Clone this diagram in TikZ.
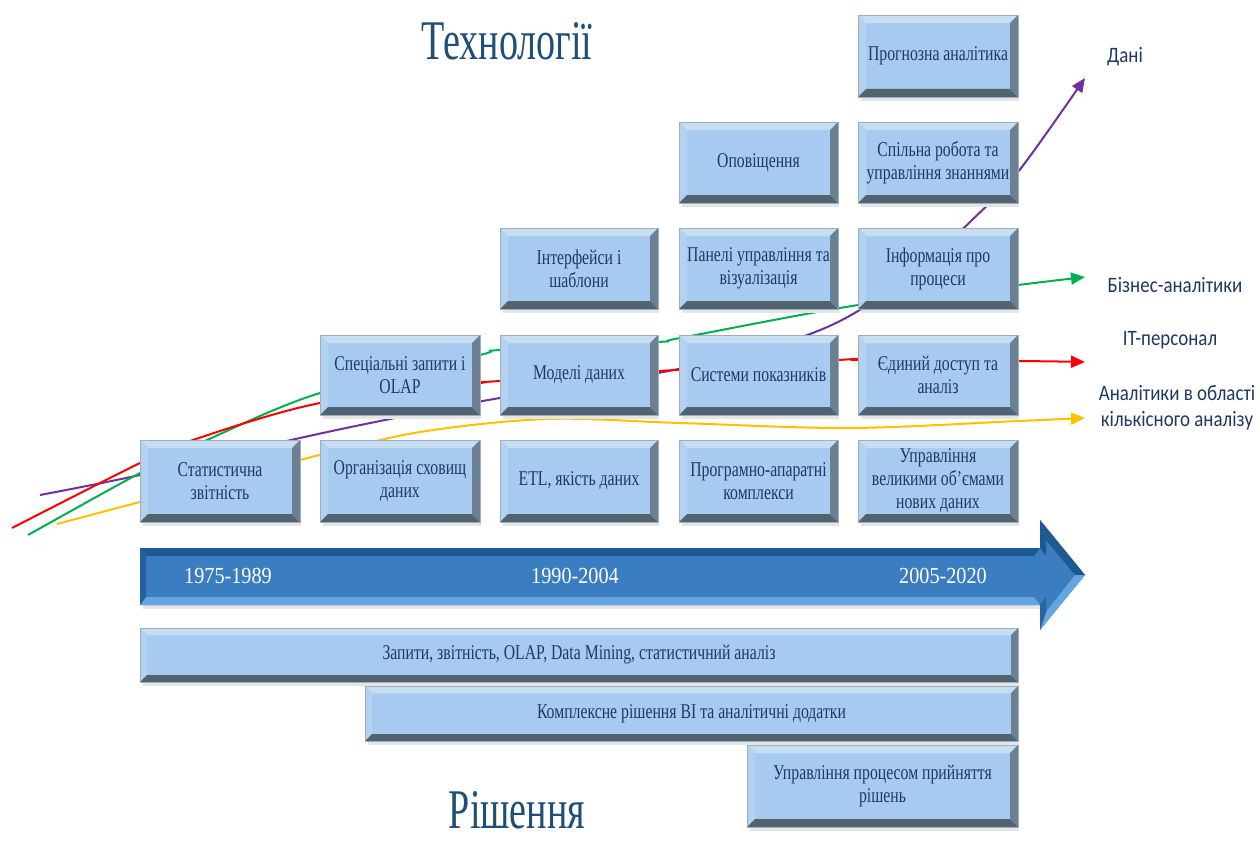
\documentclass[tikz,border=0pt]{standalone}
\usepackage{fontspec}
\setmainfont{Liberation Serif}
\newfontfamily\boxfont[FakeStretch=0.75]{Liberation Serif}
\newfontfamily\titlefont[FakeStretch=0.68]{Liberation Serif}
\newfontfamily\yearfont[FakeStretch=0.88]{Liberation Serif}
\newfontfamily\labfont[FakeStretch=0.86]{Carlito}
\usetikzlibrary{arrows.meta}
\definecolor{bxbase}{HTML}{A7CBF0}
\definecolor{bxtop}{HTML}{C6DDF2}
\definecolor{bxleft}{HTML}{B4D2EF}
\definecolor{bxbot}{HTML}{50636F}
\definecolor{bxright}{HTML}{6B8193}
\definecolor{bxline}{HTML}{9AAFC0}
\definecolor{txtcol}{HTML}{1F3864}
\definecolor{titcol}{HTML}{1F4E79}
\definecolor{labcol}{HTML}{1F3864}
\definecolor{arrmain}{HTML}{3A7DC0}
\definecolor{arrdark}{HTML}{1E5A92}
\definecolor{arrlight}{HTML}{64A6E0}
\definecolor{cpurple}{HTML}{7030A0}
\definecolor{cgreen}{HTML}{00B050}
\definecolor{cred}{HTML}{FF0000}
\definecolor{cyellow}{HTML}{FFC000}
\newcommand\bevbox[7]{%
  \fill[black!10] ({#2+3},{#5}) rectangle ({#4+1},{#5+4});
  \fill[bxbase] (#2,#3) rectangle (#4,#5);
  \fill[bxtop] (#2,#3) -- (#4,#3) -- ({#4-#7},{#3+#7}) -- ({#2+#7},{#3+#7}) -- cycle;
  \fill[bxleft] (#2,#3) -- ({#2+#7},{#3+#7}) -- ({#2+#7},{#5-#7}) -- (#2,#5) -- cycle;
  \fill[bxbot] (#2,#5) -- (#4,#5) -- ({#4-#7},{#5-#7}) -- ({#2+#7},{#5-#7}) -- cycle;
  \fill[bxright] (#4,#3) -- ({#4-#7},{#3+#7}) -- ({#4-#7},{#5-#7}) -- (#4,#5) -- cycle;
  \draw[bxline, line width=0.8pt] (#2,#3) rectangle (#4,#5);
  \node[bxtext] (#1) at ({(#2+#4)/2},{(#3+#5)/2}) {#6};
}
\tikzset{
  bxtext/.style={font=\boxfont\fontsize{21}{23}\selectfont, text=txtcol, align=center, inner sep=0pt},
  curve/.style={line width=2pt, smooth, tension=0.55},
  tip/.style={-{Triangle[length=14pt,width=12pt]}},
  lab/.style={font=\labfont\fontsize{22}{26}\selectfont, text=labcol, align=center, inner sep=0pt},
  year/.style={font=\yearfont\fontsize{23}{25}\selectfont, text=white, inner sep=0pt},
  title/.style={font=\titlefont\fontsize{56}{60}\selectfont, text=titcol, inner sep=0pt, anchor=base}
}
\begin{document}
\begin{tikzpicture}[x=1pt,y=-1pt]
\useasboundingbox (0,0) rectangle (1259,843);
% curves (behind boxes)
\draw[curve, cpurple, tip] plot coordinates {(40,495) (140,475) (300,438) (400,417) (500,398) (658,373) (745,353) (810,334) (858,311) (920,268) (970,222) (1018,172) (1085,78)};
\draw[curve, cgreen, tip] plot coordinates {(28,535) (140,473) (207,440) (320,393) (480,355) (500,350) (658,342) (680,338) (858,305) (1018,285) (1085,277)};
\draw[curve, cred, tip] plot coordinates {(12,528) (140,463) (193,440) (320,403) (480,383) (500,381) (838,360) (858,360) (1018,361) (1085,362)};
\draw[curve, cyellow, tip] plot coordinates {(57,524) (140,502) (300,460) (320,455) (420,432) (547,419) (680,423) (850,428) (1018,421) (1085,418)};
% technology boxes
\bevbox{b11}{140}{440}{300}{522}{Статистична\\звітність}{8}
\bevbox{b12}{320}{440}{480}{522}{Організація сховищ\\даних}{8}
\bevbox{b13}{500}{440}{658}{522}{ETL, якість даних}{8}
\bevbox{b14}{679}{440}{838}{522}{Програмно-апаратні\\комплекси}{8}
\bevbox{b15}{858}{440}{1018}{522}{Управління\\великими об’ємами\\нових даних}{8}
\bevbox{b22}{320}{335}{480}{415}{Спеціальні запити і\\OLAP}{8}
\bevbox{b23}{500}{335}{658}{415}{Моделі даних}{8}
\bevbox{b24}{679}{335}{838}{415}{Системи показників}{8}
\bevbox{b25}{858}{335}{1018}{415}{Єдиний доступ та\\аналіз}{8}
\bevbox{b33}{500}{228}{658}{309}{Інтерфейси і\\шаблони}{8}
\bevbox{b34}{679}{228}{838}{309}{Панелі управління та\\візуалізація}{8}
\bevbox{b35}{858}{228}{1018}{309}{Інформація про\\процеси}{8}
\bevbox{b44}{679}{122}{838}{203}{Оповіщення}{8}
\bevbox{b45}{858}{122}{1018}{203}{Спільна робота та\\управління знаннями}{8}
\bevbox{b55}{858}{15}{1018}{97}{Прогнозна аналітика}{8}
% timeline arrow
\fill[black!10] (143,605) rectangle (1040,609);
\fill[arrmain] (140,548) -- (1040,548) -- (1040,520) -- (1085,575) -- (1040,630) -- (1040,605) -- (140,605) -- cycle;
\fill[arrdark] (140,548) -- (1040,548) -- (1034,556) -- (146,556) -- cycle;
\fill[arrlight] (140,605) -- (1040,605) -- (1034,597) -- (146,597) -- cycle;
\fill[arrdark!80!arrmain] (140,548) -- (146,556) -- (146,597) -- (140,605) -- cycle;
\fill[arrdark] (1040,520) -- (1085,575) -- (1075,575) -- (1046,540) -- cycle;
\fill[arrlight] (1085,575) -- (1040,630) -- (1046,612) -- (1075,575) -- cycle;
\fill[arrdark] (1040,520) -- (1046,540) -- (1046,556) -- (1040,548) -- cycle;
\fill[arrdark!70!arrmain] (1040,630) -- (1046,612) -- (1046,597) -- (1040,605) -- cycle;
\node[year] (y1) at (228,576) {1975-1989};
\node[year] (y2) at (575,576) {1990-2004};
\node[year] (y3) at (943,576) {2005-2020};
% solution bars
\bevbox{s1}{140}{628}{1018}{682}{Запити, звітність, OLAP, Data Mining, статистичний аналіз}{7}
\bevbox{s2}{365}{686}{1018}{741}{Комплексне рішення BI та аналітичні додатки}{7}
\bevbox{s3}{747}{745}{1018}{827}{Управління процесом прийняття\\рішень}{8}
% titles
\node[title] (t1) at (507,60) {Технології};
\node[title] (t2) at (517,828) {Рішення};
% right labels
\node[lab] (l1) at (1125,57) {Дані};
\node[lab] (l2) at (1175,285) {Бізнес-аналітики};
\node[lab] (l3) at (1170,340) {IT-персонал};
\node[lab] (l4) at (1177,408) {Аналітики в області\\кількісного аналізу};
\end{tikzpicture}
\end{document}
